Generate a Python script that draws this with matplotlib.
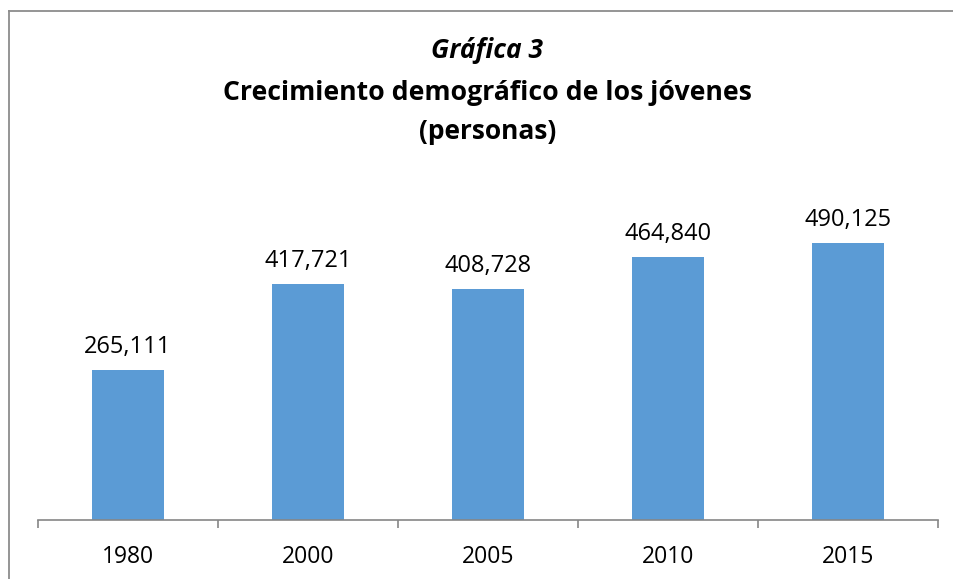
import matplotlib
matplotlib.use("Agg")
import matplotlib.pyplot as plt
from matplotlib.lines import Line2D

# datos
anios = ["1980", "2000", "2005", "2010", "2015"]
personas = [265111, 417721, 408728, 464840, 490125]

plt.rcParams['font.family'] = ['Open Sans', 'DejaVu Sans']

fig = plt.figure(figsize=(9.54, 5.79), dpi=100)
ax = fig.add_axes([38 / 954, 59 / 579, 900 / 954, 339 / 579])

x = range(len(anios))
bars = ax.bar(x, personas, width=0.4, color='#5B9BD5', zorder=2)

for xi, v in zip(x, personas):
    ax.annotate(f"{v:,}", (xi, v), xytext=(0, 8), textcoords='offset points',
                ha='center', va='bottom', fontsize=17, color='#000000')

ax.set_xlim(-0.5, len(anios) - 0.5)
ax.set_ylim(0, 600000)
ax.set_yticks([])
ax.set_xticks([i - 0.5 for i in range(len(anios) + 1)], minor=False)
ax.set_xticklabels([])
ax.set_xticks(list(x), minor=True)
ax.set_xticklabels(anios, minor=True, fontsize=16.5)
ax.tick_params(axis='x', which='major', length=6, width=1.2, color='#868686')
ax.tick_params(axis='x', which='minor', length=0, pad=18)
for s in ['top', 'right', 'left']:
    ax.spines[s].set_visible(False)
ax.spines['bottom'].set_color('#868686')
ax.spines['bottom'].set_linewidth(1.2)

# titulo
fig.text(0.511, 1 - 50 / 579, "Gráfica 3", ha='center', va='center',
         fontsize=19, fontweight='bold', fontstyle='italic')
fig.text(0.511, 1 - 93 / 579, "Crecimiento demográfico de los jóvenes", ha='center',
         va='center', fontsize=19.2, fontweight='bold')
fig.text(0.511, 1 - 131 / 579, "(personas)", ha='center', va='center',
         fontsize=19, fontweight='bold')

# borde del grafico
fig.add_artist(Line2D([9 / 954, 1], [1 - 11 / 579, 1 - 11 / 579], color='#8c8c8c', lw=1.3))
fig.add_artist(Line2D([9 / 954, 9 / 954], [0, 1 - 11 / 579], color='#8c8c8c', lw=1.3))

fig.savefig("out.png", dpi=100)
